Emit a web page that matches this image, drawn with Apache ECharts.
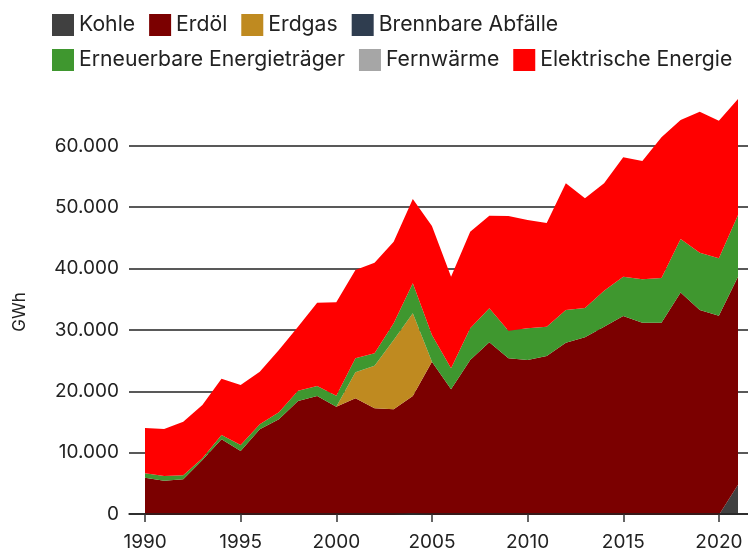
<!DOCTYPE html>
<html>
<head>
<meta charset="utf-8">
<script src="https://cdn.jsdelivr.net/npm/echarts@6/dist/echarts.min.js"></script>
<style>
  html, body { margin: 0; padding: 0; background: #fff; }
  #chart { width: 748px; height: 552px; }
</style>
</head>
<body>
<div id="chart"></div>
<script>
(function () {
    "use strict";

    // Jahre
    var jahre = [1990, 1991, 1992, 1993, 1994, 1995, 1996, 1997, 1998, 1999,
                 2000, 2001, 2002, 2003, 2004, 2005, 2006, 2007, 2008, 2009,
                 2010, 2011, 2012, 2013, 2014, 2015, 2016, 2017, 2018, 2019,
                 2020, 2021];

    // Werte in GWh
    var kohle = [0, 0, 0, 0, 0, 0, 0, 0, 0, 0,
                 0, 0, 0, 0, 300, 0, 0, 0, 0, 0,
                 0, 0, 0, 0, 0, 0, 0, 0, 0, 0,
                 0, 4900];
    var erdoel = [6070, 5580, 5800, 8940, 12310, 10410, 13930, 15560, 18540, 19350,
                  17610, 18970, 17350, 17190, 19050, 24930, 20430, 25200, 28070, 25480,
                  25200, 25870, 28020, 28890, 30620, 32360, 31270, 31270, 36160, 33330,
                  32410, 33850];
    var erdgas = [0, 0, 0, 0, 0, 0, 0, 0, 0, 0,
                  0, 4230, 6930, 11270, 13450, 0, 0, 0, 0, 0,
                  0, 0, 0, 0, 0, 0, 0, 0, 0, 0,
                  0, 0];
    var abfaelle = [0, 0, 0, 0, 0, 0, 0, 0, 0, 0,
                    0, 0, 0, 0, 0, 0, 0, 0, 0, 0,
                    0, 0, 0, 0, 0, 0, 0, 0, 0, 0,
                    0, 0];
    var erneuerbare = [710, 760, 650, 280, 700, 970, 820, 1140, 1670, 1630,
                       1800, 2280, 2010, 2710, 4870, 4340, 3420, 5150, 5530, 4490,
                       5150, 4750, 5310, 4770, 5860, 6390, 7050, 7270, 8720, 9320,
                       9330, 10030];
    var fernwaerme = [0, 0, 0, 0, 0, 0, 0, 0, 0, 0,
                      0, 0, 0, 0, 0, 0, 0, 0, 0, 0,
                      0, 0, 0, 0, 0, 0, 0, 0, 0, 0,
                      0, 0];
    var elektrisch = [7370, 7640, 8720, 8670, 9160, 9760, 8550, 10130, 10410, 13540,
                      15180, 14360, 14740, 13270, 13710, 17720, 14900, 15720, 15070, 18650,
                      17620, 16860, 20600, 17840, 17450, 19410, 19240, 22870, 19350, 22930,
                      22380, 18860];

    var xTicks = [1990, 1995, 2000, 2005, 2010, 2015, 2020];
    var fuente = "Inter, 'Noto Sans', sans-serif";
    var yMax = 70000;

    var reihen = [
        { name: 'Kohle', datos: kohle, color: '#404040' },
        { name: 'Erdöl', datos: erdoel, color: '#7b0000' },
        { name: 'Erdgas', datos: erdgas, color: '#bf8a20' },
        { name: 'Brennbare Abfälle', datos: abfaelle, color: '#2f3d4f' },
        { name: 'Erneuerbare Energieträger', datos: erneuerbare, color: '#3f972f' },
        { name: 'Fernwärme', datos: fernwaerme, color: '#a6a6a6' },
        { name: 'Elektrische Energie', datos: elektrisch, color: '#ff0000' }
    ];

    function tausender(v) {
        return String(v).replace(/\B(?=(\d{3})+(?!\d))/g, '.');
    }

    // series en la grid de datos (indice 1), apiladas
    var series = reihen.map(function (r) {
        return {
            name: r.name,
            type: 'line',
            stack: 'total',
            xAxisIndex: 1,
            yAxisIndex: 1,
            data: r.datos,
            showSymbol: false,
            symbol: 'none',
            lineStyle: { width: 0 },
            itemStyle: { color: r.color },
            areaStyle: { color: r.color, opacity: 1 },
            silent: true,
            z: 3
        };
    });

    var legendBase = {
        icon: 'rect',
        itemWidth: 22,
        itemHeight: 22,
        itemGap: 14,
        left: 52,
        padding: 0,
        selectedMode: false,
        textStyle: { fontFamily: fuente, fontSize: 21.2, color: '#222' }
    };

    var chart = echarts.init(document.getElementById('chart'), null, { renderer: 'canvas' });
    chart.setOption({
        animation: false,
        backgroundColor: '#fff',
        legend: [
            Object.assign({}, legendBase, { top: 14, data: ['Kohle', 'Erdöl', 'Erdgas', 'Brennbare Abfälle'] }),
            Object.assign({}, legendBase, { top: 49, data: ['Erneuerbare Energieträger', 'Fernwärme', 'Elektrische Energie'] })
        ],
        grid: [
            // rahmen: achse + gitterlinien
            { left: 129, right: 0, top: 84.5, bottom: 37 },
            // daten
            { left: 145, right: 10, top: 84.5, bottom: 37 }
        ],
        xAxis: [{
            gridIndex: 0,
            type: 'value',
            min: 1989.16,
            max: 2021.52,
            splitLine: { show: false },
            axisLine: { lineStyle: { color: '#222', width: 1.5 } },
            axisTick: { customValues: xTicks, length: 8, lineStyle: { color: '#333', width: 1.5 } },
            axisLabel: {
                customValues: xTicks,
                margin: 19,
                fontFamily: fuente, fontSize: 19, color: '#222',
                formatter: function (v) { return String(v); }
            },
            z: 5
        }, {
            gridIndex: 1,
            type: 'category',
            boundaryGap: false,
            data: jahre,
            show: false
        }],
        yAxis: [{
            gridIndex: 0,
            type: 'value',
            min: 0,
            max: yMax,
            interval: 10000,
            axisLine: { show: false },
            axisTick: { show: false },
            splitLine: { showMaxLine: false, lineStyle: { color: '#222', width: 1.5 } },
            axisLabel: {
                showMaxLabel: false,
                margin: 10,
                fontFamily: fuente, fontSize: 19, color: '#222',
                formatter: tausender
            }
        }, {
            gridIndex: 1,
            type: 'value',
            min: 0,
            max: yMax,
            show: false,
            splitLine: { show: false }
        }],
        graphic: [{
            type: 'text',
            x: 20,
            y: 312,
            rotation: Math.PI / 2,
            style: {
                text: 'GWh',
                fontFamily: fuente,
                fontSize: 17,
                fill: '#222',
                align: 'center',
                verticalAlign: 'middle'
            }
        }],
        series: series
    });
}());
</script>
</body>
</html>
